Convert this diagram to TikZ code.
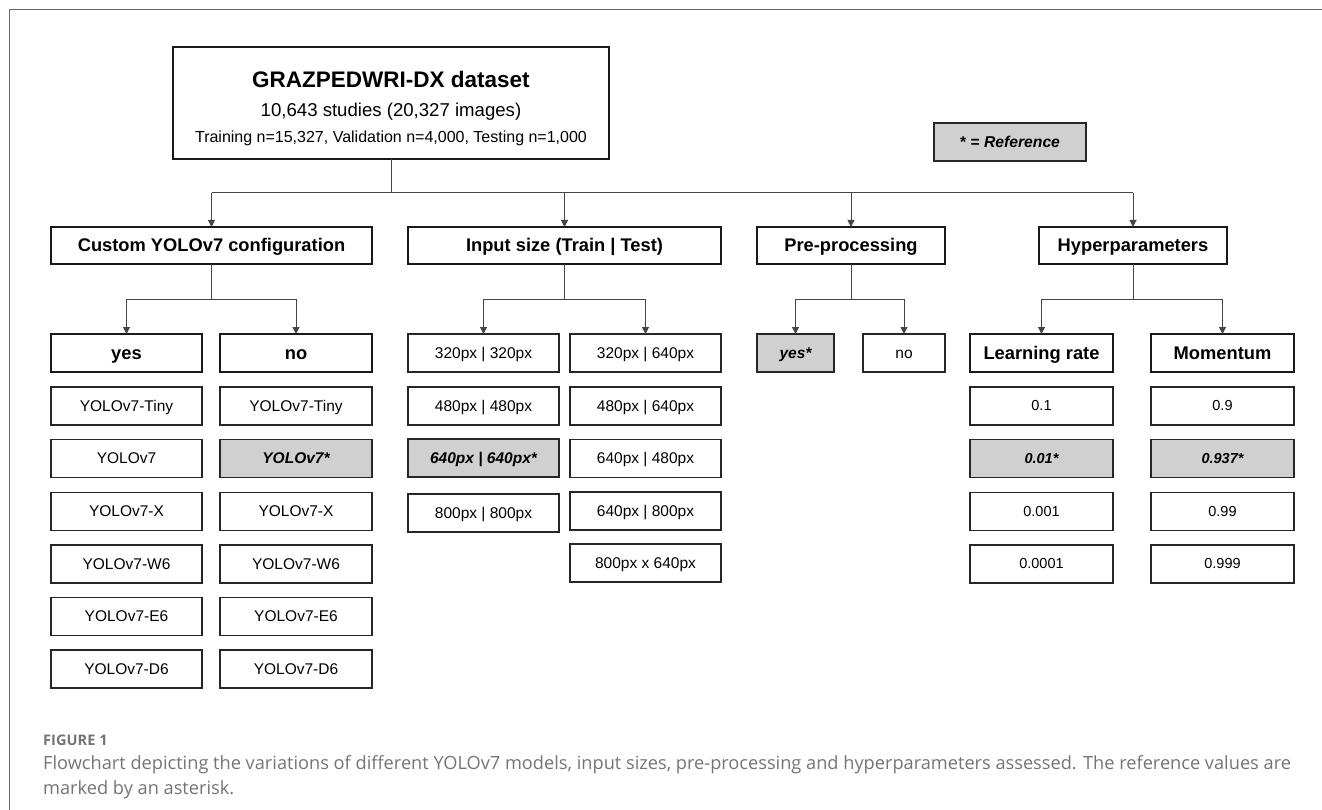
\documentclass[tikz,border=0pt]{standalone}
\usepackage{fontspec}
\setmainfont{Liberation Sans}
\newfontfamily\capfont{Open Sans}
\usetikzlibrary{arrows.meta}
\definecolor{refgray}{HTML}{D0D0D0}
\definecolor{linegray}{HTML}{454545}
\definecolor{capgray}{HTML}{747474}
\definecolor{framegray}{HTML}{6A6A6A}
\begin{document}
\begin{tikzpicture}[x=1pt,y=-1pt,
  box/.style={draw=black!85, line width=1.3pt, fill=white, inner sep=0pt, outer sep=0pt,
    minimum height=38pt, minimum width=151pt, text height=13.5pt, text depth=3.2pt,
    font=\fontsize{15.5}{18}\selectfont},
  hval/.style={box, minimum width=143pt, text height=12.8pt, text depth=3pt, font=\fontsize{14.5}{17}\selectfont},
  hdr/.style={box, line width=2pt, draw=black!90, text height=16pt, text depth=3.7pt, font=\fontsize{18.3}{22}\selectfont\bfseries},
  refbox/.style={box, fill=refgray, font=\fontsize{15.5}{18}\selectfont\bfseries\itshape},
  hrefbox/.style={hval, fill=refgray, font=\fontsize{14.5}{17}\selectfont\bfseries\itshape},
  conn/.style={draw=linegray, line width=1pt},
  arr/.style={conn, -{Triangle[length=7pt,width=7pt]}},
  txt/.style={inner sep=0pt, outer sep=0pt},
  captxt/.style={anchor=base west, inner sep=0pt, text=capgray}
]
\useasboundingbox (0,0) rectangle (1322,810);
% frame
\draw[framegray, line width=1pt] (9,810) coordinate (fbl) -- (9,10) coordinate (ftl) -- (1322,10) coordinate (ftr);

% top box
\node[draw=black!90, line width=2pt, fill=white, minimum width=436pt, minimum height=112pt, inner sep=0pt, outer sep=0pt] (top) at (391,103) {};
\node[txt, font=\fontsize{22.5}{26}\selectfont\bfseries] (t1) at (391,79) {GRAZPEDWRI-DX dataset};
\node[txt, font=\fontsize{18.6}{22}\selectfont] (t2) at (391,112) {10,643 studies (20,327 images)};
\node[txt, font=\fontsize{16}{19}\selectfont] (t3) at (391,138) {Training n=15,327, Validation n=4,000, Testing n=1,000};

% legend
\node[box, fill=refgray, line width=1.6pt, minimum width=152pt, font=\fontsize{15.7}{18}\selectfont\bfseries] (leg) at (1010,142) {* = \textit{Reference}};

% level 1 headers
\node[hdr, minimum width=321pt, minimum height=37pt] (cus) at (211.5,245.5) {Custom YOLOv7 configuration};
\node[hdr, minimum width=313pt, minimum height=37pt] (inp) at (564.5,245.5) {Input size (Train | Test)};
\node[hdr, minimum width=188pt, minimum height=37pt] (pre) at (851,245.5) {Pre-processing};
\node[hdr, minimum width=188pt, minimum height=37pt] (hyp) at (1133,245.5) {Hyperparameters};

% level 2
\node[hdr, minimum width=151pt] (yes) at (126.5,353) {yes};
\node[hdr, minimum width=152pt] (no) at (296,353) {no};
\node[box] (i1a) at (483.5,353) {320px | 320px};
\node[box] (i2a) at (645.5,353) {320px | 640px};
\node[refbox, minimum width=77pt] (pyes) at (795.5,353) {yes*};
\node[box, minimum width=82pt] (pno) at (904,353) {no};
\node[hdr, minimum width=143pt] (lr) at (1041.5,353) {Learning rate};
\node[hdr, minimum width=143pt] (mom) at (1222.5,353) {Momentum};

% custom yes column
\node[box] (y1) at (126.5,406) {YOLOv7-Tiny};
\node[box] (y2) at (126.5,458.5) {YOLOv7};
\node[box] (y3) at (126.5,511.5) {YOLOv7-X};
\node[box] (y4) at (126.5,564) {YOLOv7-W6};
\node[box] (y5) at (126.5,616.5) {YOLOv7-E6};
\node[box] (y6) at (126.5,669) {YOLOv7-D6};
% custom no column
\node[box, minimum width=152pt] (n1) at (296,406) {YOLOv7-Tiny};
\node[refbox, minimum width=152pt] (n2) at (296,458.5) {YOLOv7*};
\node[box, minimum width=152pt] (n3) at (296,511.5) {YOLOv7-X};
\node[box, minimum width=152pt] (n4) at (296,564) {YOLOv7-W6};
\node[box, minimum width=152pt] (n5) at (296,616.5) {YOLOv7-E6};
\node[box, minimum width=152pt] (n6) at (296,669) {YOLOv7-D6};

% input size columns
\node[box] (i1b) at (483.5,406) {480px | 480px};
\node[refbox] (i1c) at (483.5,458) {640px | 640px*};
\node[box] (i1d) at (483.5,513) {800px | 800px};
\node[box] (i2b) at (645.5,406) {480px | 640px};
\node[box] (i2c) at (645.5,458.5) {640px | 480px};
\node[box] (i2d) at (645.5,511) {640px | 800px};
\node[box] (i2e) at (645.5,563) {800px x 640px};

% hyperparameter values
\node[hval] (l1) at (1041.5,406) {0.1};
\node[hrefbox] (l2) at (1041.5,458.5) {0.01*};
\node[hval] (l3) at (1041.5,511.5) {0.001};
\node[hval] (l4) at (1041.5,564) {0.0001};
\node[hval] (m1) at (1222.5,406) {0.9};
\node[hrefbox] (m2) at (1222.5,458.5) {0.937*};
\node[hval] (m3) at (1222.5,511.5) {0.99};
\node[hval] (m4) at (1222.5,564) {0.999};

% connectors level 1
\coordinate (b0) at (391,193);
\draw[conn] (top.south) -- (b0);
\draw[conn] (cus.north |- b0) -- (hyp.north |- b0);
\foreach \n in {cus,inp,pre,hyp} \draw[arr] (\n.north |- b0) -- (\n.north);

% connectors level 2
\coordinate (b1) at (0,299);
\draw[conn] (cus.south) -- (cus.south |- b1);
\draw[conn] (yes.north |- b1) -- (no.north |- b1);
\draw[arr] (yes.north |- b1) -- (yes.north);
\draw[arr] (no.north |- b1) -- (no.north);

\draw[conn] (inp.south) -- (inp.south |- b1);
\draw[conn] (i1a.north |- b1) -- (i2a.north |- b1);
\draw[arr] (i1a.north |- b1) -- (i1a.north);
\draw[arr] (i2a.north |- b1) -- (i2a.north);

\draw[conn] (pre.south) -- (pre.south |- b1);
\draw[conn] (pyes.north |- b1) -- (pno.north |- b1);
\draw[arr] (pyes.north |- b1) -- (pyes.north);
\draw[arr] (pno.north |- b1) -- (pno.north);

\draw[conn] (hyp.south) -- (hyp.south |- b1);
\draw[conn] (lr.north |- b1) -- (mom.north |- b1);
\draw[arr] (lr.north |- b1) -- (lr.north);
\draw[arr] (mom.north |- b1) -- (mom.north);

% caption
\node[captxt, font={\capfont\fontsize{14.6}{17}\selectfont\bfseries}] (fig) at (43,745) {FIGURE 1};
\node[captxt, font={\capfont\fontsize{18.2}{22}\selectfont}] (cap1) at (43,769) {Flowchart depicting the variations of different YOLOv7 models, input sizes, pre-processing and hyperparameters assessed. The reference values are};
\node[captxt, font={\capfont\fontsize{18.2}{22}\selectfont}] (cap2) at (43,794) {marked by an asterisk.};
\end{tikzpicture}
\end{document}
